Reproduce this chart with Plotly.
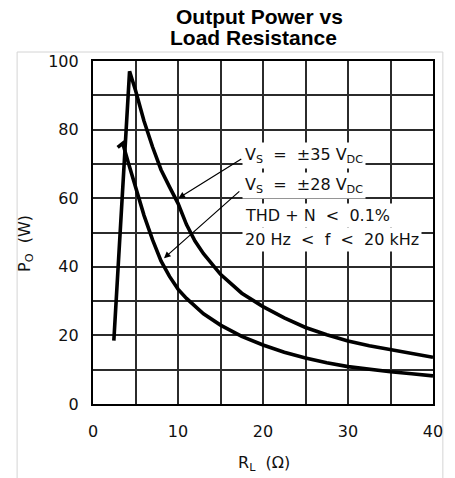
import plotly.graph_objects as go

# Load resistance (ohms) and output power (W) for each supply voltage
r_35v = [2.45, 4.3, 5, 6, 7, 8, 9, 10, 11, 12, 13, 14, 15, 17.5, 20, 22.5, 25, 27.5, 30, 32.5, 35, 37.5, 40]
p_35v = [18.5, 97, 91.5, 82.5, 75, 68.3, 63.3, 58.5, 52.3, 47.5, 43.8, 40.6, 37.8, 32.3, 28.4, 25.1, 22.3, 20.2, 18.4, 17.0, 15.8, 14.6, 13.6]

r_28v = [2.9, 3.5, 4.2, 5, 6, 7, 8, 9, 10, 11, 12, 13, 15, 17.5, 20, 22.5, 25, 27.5, 30, 32.5, 35, 37.5, 40]
p_28v = [74.8, 76, 70, 63.2, 55, 47.9, 41.7, 37.2, 33.5, 30.8, 28.4, 26.3, 23.0, 19.7, 17.2, 15.1, 13.4, 12.0, 10.9, 10.1, 9.4, 8.8, 8.2]

x_ticks = [0, 10, 20, 30, 40]
y_ticks = [0, 20, 40, 60, 80, 100]

note_lines = [
    "V<sub>S</sub>  =  ±35 V<sub>DC</sub>",
    "V<sub>S</sub>  =  ±28 V<sub>DC</sub>",
    "THD + N  <  0.1%",
    "20 Hz  <  f  <  20 kHz",
]

W, H = 455, 478
L, R, T, B = 93, 17, 61, 74
PW, PH = W - L - R, H - T - B

def px_x(px):
    return (px - L) / PW

def px_y(py):
    return (H - B - py) / PH

def dx(px):
    return (px - L) / PW * 40

def dy(py):
    return (H - B - py) / PH * 100

fig = go.Figure()
for rx, py_ in [(r_35v, p_35v), (r_28v, p_28v)]:
    fig.add_trace(go.Scatter(x=rx, y=py_, mode="lines",
                             line=dict(color="black", width=3.6),
                             hoverinfo="skip", showlegend=False))

body_font = dict(family="DejaVu Sans", size=16, color="#111")

annotations = []
# chart title, two lines
annotations.append(dict(text="<b>Output Power vs</b>", x=px_x(262), y=px_y(17), xref="paper", yref="paper",
                        showarrow=False, xanchor="center", yanchor="middle",
                        font=dict(family="Liberation Sans, Arial", size=21, color="black")))
annotations.append(dict(text="<b>Load Resistance</b>", x=px_x(256), y=px_y(38), xref="paper", yref="paper",
                        showarrow=False, xanchor="center", yanchor="middle",
                        font=dict(family="Liberation Sans, Arial", size=21, color="black")))
# axis titles
annotations.append(dict(text="P<sub>O</sub>  (W)", x=px_x(25), y=px_y(243), xref="paper", yref="paper",
                        showarrow=False, textangle=-90, xanchor="center", yanchor="middle", font=body_font))
annotations.append(dict(text="R<sub>L</sub>  (Ω)", x=px_x(267), y=px_y(463), xref="paper", yref="paper",
                        showarrow=False, xanchor="center", yanchor="middle", font=body_font))

# condition notes with white backing
note_y = [155, 185, 215, 239]
for txt, yy in zip(note_lines, note_y):
    annotations.append(dict(text=txt, x=dx(244), y=dy(yy), xref="x", yref="y",
                            showarrow=False, xanchor="left", yanchor="middle",
                            bgcolor="white", borderpad=2, font=body_font))

# leader arrows to each curve
annotations.append(dict(text="", x=10.05, y=60, xref="x", yref="y",
                        ax=dx(245), ay=dy(158), axref="x", ayref="y",
                        showarrow=True, arrowhead=2, arrowsize=1.1, arrowwidth=1.2, arrowcolor="black"))
annotations.append(dict(text="", x=8.35, y=42.5, xref="x", yref="y",
                        ax=dx(243), ay=dy(190), axref="x", ayref="y",
                        showarrow=True, arrowhead=2, arrowsize=1.1, arrowwidth=1.2, arrowcolor="black"))

shapes = [dict(type="rect", xref="paper", yref="paper",
               x0=px_x(16), x1=px_x(448), y0=px_y(480), y1=px_y(52),
               line=dict(color="#d4d4d4", width=1), layer="below")]

fig.update_layout(
    width=W, height=H,
    margin=dict(l=L, r=R, t=T, b=B, pad=0),
    paper_bgcolor="white", plot_bgcolor="white",
    annotations=annotations, shapes=shapes,
    font=body_font,
)
fig.update_xaxes(range=[0, 40], dtick=5, showgrid=True, gridcolor="#2b2b2b", gridwidth=1.6,
                 tickmode="array", tickvals=x_ticks, ticktext=[str(v) for v in x_ticks],
                 showline=True, linecolor="black", linewidth=2.2, mirror=True,
                 ticks="", zeroline=False, ticklabelstandoff=12,
                 tickfont=dict(family="DejaVu Sans", size=16, color="#111"))
fig.update_yaxes(range=[0, 100], showgrid=True, gridcolor="#2b2b2b", gridwidth=1.6,
                 tickmode="array", tickvals=y_ticks, ticktext=[str(v) for v in y_ticks],
                 showline=True, linecolor="black", linewidth=2.2, mirror=True,
                 ticks="", zeroline=False, ticklabelstandoff=9,
                 tickfont=dict(family="DejaVu Sans", size=16, color="#111"))
# minor gridlines between labelled ticks
fig.update_xaxes(minor=dict(dtick=5, showgrid=True, gridcolor="#2b2b2b", gridwidth=1.6, ticks=""))
fig.update_yaxes(minor=dict(dtick=10, showgrid=True, gridcolor="#2b2b2b", gridwidth=1.6, ticks=""))

fig.write_html("out.html")
